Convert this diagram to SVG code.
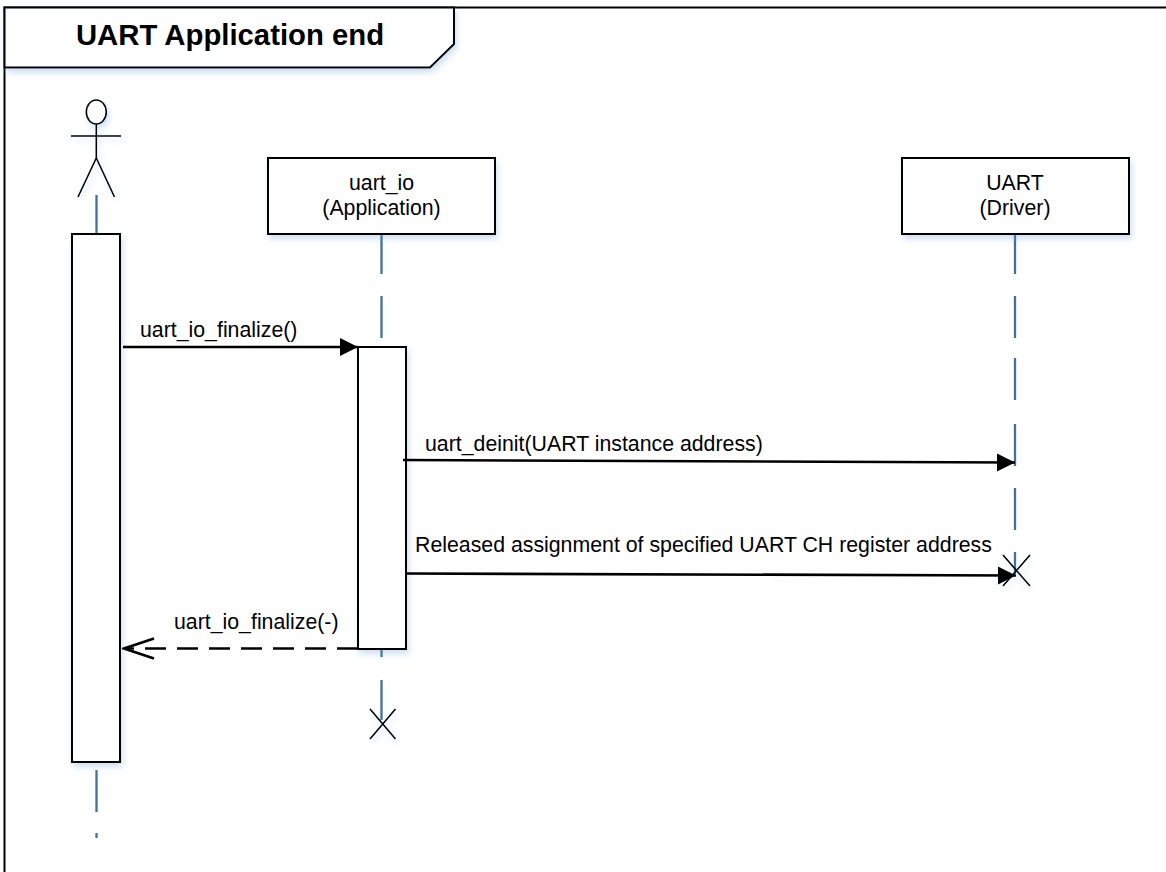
<svg xmlns="http://www.w3.org/2000/svg" width="1166" height="872" viewBox="0 0 1166 872">
<style>
.s{fill:#fff;stroke:#000;stroke-width:2}
.x{fill:none;stroke:#000;stroke-width:1.6}
.l{fill:none;stroke:#41719c;stroke-width:2.3}
.m{fill:none;stroke:#000;stroke-width:2.6}
text{font-family:"Liberation Sans",Arial,sans-serif;font-size:21.3px;fill:#000}
.c{text-anchor:middle}
</style>
<defs>
<filter id="sh" x="-20%" y="-20%" width="140%" height="140%"><feDropShadow dx="2" dy="4" stdDeviation="3" flood-color="#5b9bd5" flood-opacity="0.3"/></filter>
<marker id="solid" markerUnits="userSpaceOnUse" markerWidth="20" markerHeight="20" refX="18" refY="9" orient="auto"><path d="M0 0L18 9L0 18Z" fill="#000"/></marker>
<marker id="open" markerUnits="userSpaceOnUse" markerWidth="34" markerHeight="26" refX="32" refY="13" orient="auto"><path d="M2 3L32 13L2 23" fill="none" stroke="#000" stroke-width="2.6"/></marker>
</defs>
<rect width="1166" height="872" fill="#fff"/>
<g id="frame">
<path d="M1166 7.500H4.500V872" fill="none" stroke="#000" stroke-width="2"/>
<path d="M4.500 7.500H454V44L430 67.500H4.500Z" class="s" filter="url(#sh)"/>
<text x="230" y="45" class="c" style="font-size:29.300px;font-weight:bold">UART Application end</text>
</g>
<g id="lifelines">
<path class="l" d="M96.500 195V233"/>
<path class="l" d="M96.500 770V812M96.500 833V838"/>
<path class="l" d="M381.500 234V274M381.500 296V338M381.500 649V657M381.500 680V720"/>
<path class="l" d="M1015 234V274M1015 296V338M1015 358V400M1015 424V466M1015 488V530M1015 552V574"/>
</g>
<g id="actor" filter="url(#sh)">
<ellipse cx="96.300" cy="112" rx="10" ry="12" class="x" style="fill:#fff"/>
<path class="x" d="M96.300 124V158M71 136H121M96.300 158L78 197M96.300 158L114.500 197"/>
</g>
<g id="actor-activation"><rect x="72" y="234" width="48" height="528" class="s" filter="url(#sh)"/></g>
<g id="uart_io">
<rect x="268" y="158" width="227" height="76" class="s" filter="url(#sh)"/>
<text x="381.500" y="190" class="c">uart_io</text>
<text x="381.500" y="215" class="c">(Application)</text>
</g>
<g id="uart_io-activation"><rect x="358" y="347" width="48" height="302" class="s" filter="url(#sh)"/></g>
<g id="uart">
<rect x="902" y="158" width="227" height="76" class="s" filter="url(#sh)"/>
<text x="1015" y="190" class="c">UART</text>
<text x="1015" y="215" class="c">(Driver)</text>
</g>
<g id="connectors">
<path class="m" d="M123 347H358" marker-end="url(#solid)"/>
<text x="140" y="337">uart_io_finalize()</text>
<path class="m" d="M403 460L1015 462.500" marker-end="url(#solid)"/>
<text x="425" y="451">uart_deinit(UART instance address)</text>
<path class="m" d="M405 573.500L1016 575.500" marker-end="url(#solid)"/>
<text x="415" y="552">Released assignment of specified UART CH register address</text>
<path class="m" d="M358 648.500H124" stroke-dasharray="21 11" marker-end="url(#open)"/>
<text x="174" y="629">uart_io_finalize(-)</text>
</g>
<g id="destroy-uart" filter="url(#sh)"><path class="x" d="M1003 555L1030 586M1030 555L1003 586"/></g>
<g id="destroy-uart_io" filter="url(#sh)"><path class="x" d="M370 709L395.500 739M395.500 709L370 739"/></g>
</svg>
